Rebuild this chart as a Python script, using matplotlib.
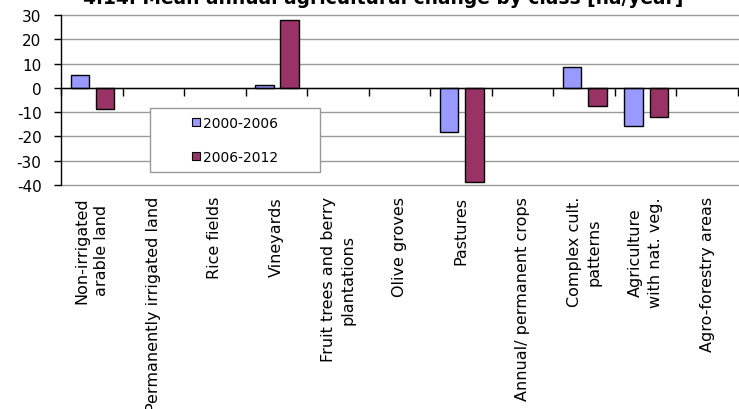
import matplotlib
matplotlib.use("Agg")
import matplotlib.pyplot as plt
from matplotlib.patches import Patch, Rectangle
import numpy as np

categories = ["Non-irrigated\narable land", "Permanently irrigated land", "Rice fields",
              "Vineyards", "Fruit trees and berry\nplantations", "Olive groves", "Pastures",
              "Annual/ permanent crops", "Complex cult.\npatterns", "Agriculture\nwith nat. veg.",
              "Agro-forestry areas"]
series_names = ["2000-2006", "2006-2012"]
nan = float("nan")
v_2000_2006 = [5.3, nan, nan, 1.3, nan, nan, -18.0, nan, 8.6, -15.9, nan]
v_2006_2012 = [-8.6, nan, nan, 28.1, nan, nan, -38.8, nan, -7.3, -11.8, nan]
yticks = [30, 20, 10, 0, -10, -20, -30, -40]
title = "4.14. Mean annual agricultural change by class [ha/year]"

colors = ["#9999FF", "#993366"]

W, H = 739, 410
fig = plt.figure(figsize=(W / 100, H / 100), dpi=100)
ax = fig.add_axes([61 / W, 1 - 186 / H, 677 / W, 170 / H])

x = np.arange(len(categories))
bw = 0.3
ax.bar(x - 0.195, v_2000_2006, bw, color=colors[0], edgecolor="black", linewidth=1.0, zorder=3)
ax.bar(x + 0.215, v_2006_2012, bw, color=colors[1], edgecolor="black", linewidth=1.0, zorder=3)

ax.set_xlim(-0.5, len(categories) - 0.5)
ax.set_ylim(-40, 30)
ax.set_yticks(yticks)
ax.set_yticklabels([str(t) for t in yticks], fontsize=11)
ax.yaxis.grid(True, color="#999999", linewidth=1.0, zorder=0)
for gl in ax.get_ygridlines():
    gl.set_clip_on(False)
ax.set_axisbelow(True)

for s in ["top", "right"]:
    ax.spines[s].set_visible(False)
ax.spines["left"].set_color("black")
ax.spines["left"].set_linewidth(1.0)
ax.spines["bottom"].set_position(("data", 0))
ax.spines["bottom"].set_color("black")
ax.spines["bottom"].set_linewidth(1.0)
ax.spines["bottom"].set_zorder(4)

ax.tick_params(axis="y", length=5, width=1, direction="out", pad=9)
ax.set_xticks(np.arange(len(categories) + 1) - 0.5)
ax.tick_params(axis="x", length=6, width=1, direction="out", labelbottom=False)

sec = ax.secondary_xaxis("bottom")
sec.spines["bottom"].set_visible(False)
sec.set_xticks(x)
sec.set_xticklabels(categories, rotation=90, fontsize=11.5, ha="center", va="top",
                    multialignment="center", linespacing=1.4)
sec.tick_params(length=0, pad=8)

# legend box
lx0, ly0, lx1, ly1 = 150, 109, 320, 173
fig.patches.append(Rectangle((lx0 / W, 1 - ly1 / H), (lx1 - lx0) / W, (ly1 - ly0) / H,
                             transform=fig.transFigure, facecolor="white",
                             edgecolor="#999999", linewidth=1.0, zorder=5))
handles = [Patch(facecolor=c, edgecolor="black", linewidth=0.8) for c in colors]
fig.legend(handles, series_names, loc="center",
           bbox_to_anchor=((lx0 + lx1) / 2 / W, 1 - (ly0 + ly1) / 2 / H),
           frameon=False, fontsize=10, handlelength=0.55, handleheight=0.55,
           handletextpad=0.25, labelspacing=1.45, borderpad=0)

fig.text(0.519, 1 - 4 / H, title, ha="center", va="baseline", fontsize=13.4,
         fontweight="bold")

fig.savefig("out.png", dpi=100)
